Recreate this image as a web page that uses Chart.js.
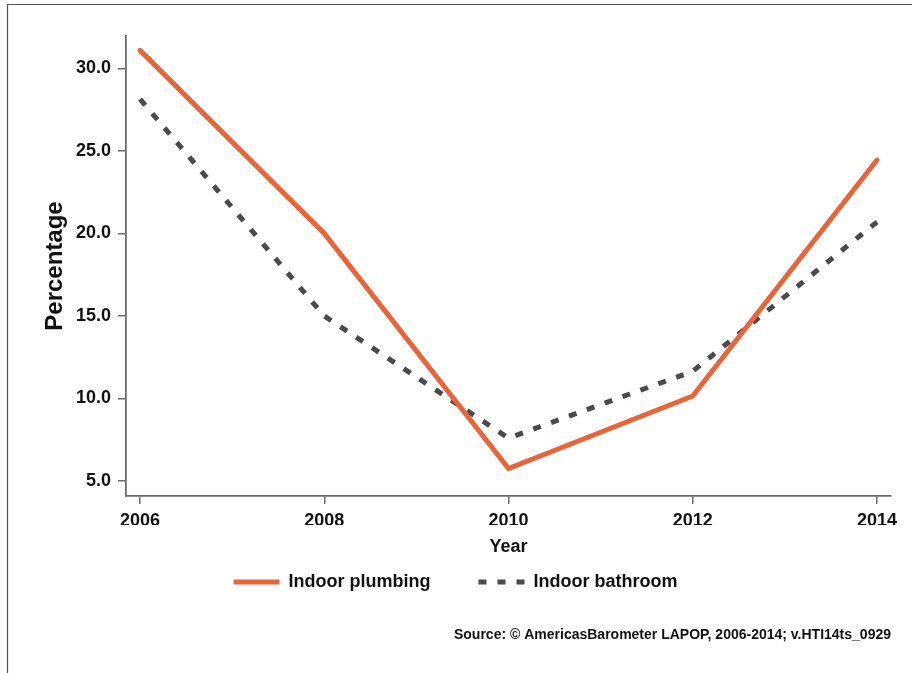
<!DOCTYPE html>
<html>
<head>
<meta charset="utf-8">
<script src="https://cdn.jsdelivr.net/npm/chart.js@4"></script>
<style>
  html, body { margin: 0; padding: 0; background: #fff; }
  #wrap { width: 912px; height: 673px; position: relative; }
</style>
</head>
<body>
<div id="wrap"><canvas id="c" width="912" height="673"></canvas></div>
<script>
const years = [2006, 2008, 2010, 2012, 2014];
const plumbing = [31.1, 20.0, 5.75, 10.15, 24.45];
const bathroom = [28.15, 15.0, 7.6, 11.65, 20.7];
const yTicks = [5, 10, 15, 20, 25, 30];
const xTicks = [2006, 2008, 2010, 2012, 2014];
const seriesNames = ['Indoor plumbing', 'Indoor bathroom'];
const sourceText = 'Source: \u00A9 AmericasBarometer LAPOP, 2006-2014; v.HTI14ts_0929';
const xTitle = 'Year';
const yTitle = 'Percentage';

const FONT = '"Liberation Sans", Arial, Helvetica, sans-serif';
const axisColor = '#6b6b6b';
const textColor = '#111111';

const framePlugin = {
  id: 'frame',
  beforeDraw(chart) {
    const ctx = chart.ctx;
    ctx.save();
    ctx.strokeStyle = '#555555';
    ctx.lineWidth = 1.2;
    ctx.beginPath();
    ctx.moveTo(7.5, chart.height);
    ctx.lineTo(7.5, 4.5);
    ctx.lineTo(chart.width, 4.5);
    ctx.stroke();
    ctx.restore();
  }
};

new Chart(document.getElementById('c'), {
  type: 'line',
  data: {
    datasets: [
      {
        label: seriesNames[0],
        data: years.map((y, i) => ({ x: y, y: plumbing[i] })),
        borderColor: '#e8653a',
        backgroundColor: '#e8653a',
        borderWidth: 5,
        borderCapStyle: 'round',
        borderJoinStyle: 'miter',
        pointRadius: 0,
        pointStyle: 'line',
        tension: 0
      },
      {
        label: seriesNames[1],
        data: years.map((y, i) => ({ x: y, y: bathroom[i] })),
        borderColor: '#4a4a4a',
        backgroundColor: '#4a4a4a',
        borderWidth: 5,
        borderDash: [8, 11],
        borderCapStyle: 'butt',
        pointRadius: 0,
        pointStyle: 'line',
        tension: 0
      }
    ]
  },
  options: {
    responsive: false,
    animation: false,
    devicePixelRatio: 1,
    layout: { padding: { top: 36, right: 21, left: 20, bottom: 29.6 } },
    plugins: {
      tooltip: { enabled: false },
      legend: {
        position: 'bottom',
        labels: {
          usePointStyle: true,
          pointStyleWidth: 46,
          boxWidth: 46,
          padding: 48,
          color: textColor,
          font: { family: FONT, size: 18, weight: 'bold' },
          generateLabels(chart) {
            const items = Chart.defaults.plugins.legend.labels.generateLabels(chart);
            items.forEach(it => {
              const ds = chart.data.datasets[it.datasetIndex];
              it.lineCap = 'butt';
              it.lineWidth = ds.borderWidth;
              it.strokeStyle = ds.borderColor;
              it.lineDash = ds.borderDash || [];
              it.lineDashOffset = 0;
            });
            return items;
          }
        }
      },
      subtitle: {
        display: true,
        position: 'bottom',
        align: 'end',
        text: sourceText,
        color: textColor,
        font: { family: FONT, size: 14, weight: 'bold', lineHeight: 1.2 },
        padding: { top: 25.6, bottom: 0 }
      }
    },
    scales: {
      x: {
        type: 'linear',
        min: 2005.848,
        max: 2014.152,
        afterFit(scale) { scale.height = 29; },
        afterBuildTicks(scale) { scale.ticks = xTicks.map(v => ({ value: v })); },
        grid: { display: true, drawOnChartArea: false, drawTicks: true, tickLength: 8, color: axisColor, lineWidth: 1.5 },
        border: { display: true, color: axisColor, width: 1.8 },
        ticks: {
          padding: 6,
          color: textColor,
          font: { family: FONT, size: 18, weight: 'bold' },
          maxRotation: 0,
          callback: v => String(v)
        },
        title: {
          display: true,
          text: xTitle,
          color: textColor,
          font: { family: FONT, size: 18, weight: 'bold', lineHeight: 1.2 },
          padding: { top: 0, bottom: -32.8 }
        }
      },
      y: {
        type: 'linear',
        min: 4.09,
        max: 31.97,
        afterFit(scale) { scale.width = 106; },
        afterBuildTicks(scale) { scale.ticks = yTicks.map(v => ({ value: v })); },
        grid: { display: true, drawOnChartArea: false, drawTicks: true, tickLength: 8, color: axisColor, lineWidth: 1.5 },
        border: { display: true, color: axisColor, width: 1.8 },
        ticks: {
          padding: 7,
          color: textColor,
          font: { family: FONT, size: 18, weight: 'bold' },
          callback: v => Number(v).toFixed(1)
        },
        title: {
          display: true,
          text: yTitle,
          color: textColor,
          font: { family: FONT, size: 24, weight: 'bold', lineHeight: 1.2 },
          padding: { top: 20.6, bottom: 0 }
        }
      }
    }
  },
  plugins: [framePlugin]
});
</script>
</body>
</html>
